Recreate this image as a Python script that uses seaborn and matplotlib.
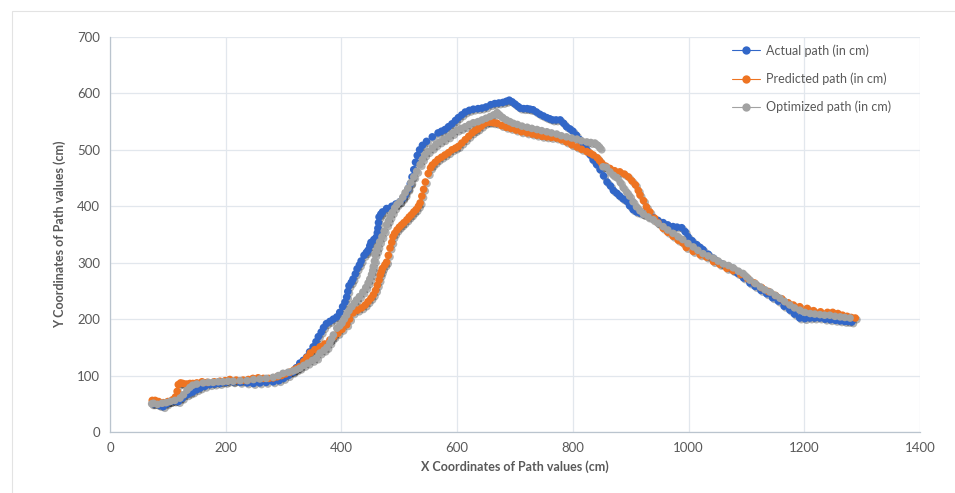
import pandas as pd
import matplotlib
matplotlib.use("Agg")
import matplotlib.pyplot as plt
import matplotlib.patheffects as pe
from matplotlib.lines import Line2D
from matplotlib.patches import Rectangle
import seaborn as sns

# =============================
# DATA
# =============================
actual_x = [75, 81, 86, 92, 98, 104, 111, 118, 125, 133, 138, 143, 150, 156, 164, 173, 181, 190, 200, 213,
            225, 237, 248, 259, 270, 282, 292, 300, 308, 316, 322, 328, 334, 340, 345, 351, 356, 360, 365, 369,
            374, 380, 386, 392, 397, 402, 406, 409, 411, 413, 417, 420, 424, 427, 431, 434, 439, 443, 446, 449,
            451, 456, 460, 462, 463, 464, 465, 468, 471, 478, 487, 494, 501, 506, 510, 515, 519, 522, 525, 528,
            531, 535, 540, 547, 557, 567, 573, 579, 585, 591, 597, 602, 608, 614, 621, 628, 636, 643, 650, 658,
            665, 672, 679, 685, 690, 695, 700, 705, 709, 715, 721, 726, 731, 737, 743, 749, 755, 760, 765, 771,
            778, 784, 789, 795, 800, 806, 812, 818, 824, 830, 835, 841, 847, 853, 859, 865, 870, 876, 881, 887,
            893, 898, 904, 910, 916, 922, 930, 939, 947, 956, 964, 973, 980, 988, 994, 999, 1006, 1014, 1020, 1025,
            1034, 1043, 1050, 1057, 1066, 1075, 1085, 1095, 1106, 1115, 1125, 1135, 1145, 1155, 1165, 1175, 1183,
            1192, 1201, 1210, 1218, 1227, 1236, 1245, 1254, 1262, 1270, 1276, 1282]
actual_y = [50, 51, 47, 45, 50, 54, 55, 54, 60, 66, 69, 71, 75, 78, 81, 84, 85, 86, 88, 89,
            88, 87, 86, 87, 88, 89, 91, 95, 100, 106, 114, 122, 127, 133, 142, 151, 160, 169, 177, 185,
            192, 196, 200, 204, 212, 222, 230, 239, 249, 259, 265, 271, 280, 289, 296, 303, 313, 318, 322, 330,
            336, 341, 345, 353, 361, 371, 381, 386, 390, 396, 400, 404, 408, 414, 420, 430, 440, 452, 465, 478,
            490, 500, 508, 515, 523, 530, 533, 536, 541, 546, 552, 557, 562, 567, 570, 572, 573, 574, 576, 580,
            582, 583, 584, 586, 588, 585, 581, 577, 574, 573, 573, 572, 571, 567, 563, 560, 557, 555, 553, 553,
            553, 547, 541, 537, 533, 526, 518, 510, 500, 491, 482, 474, 465, 454, 443, 436, 428, 423, 418, 413,
            409, 401, 394, 390, 388, 386, 383, 380, 375, 371, 367, 364, 363, 362, 355, 346, 339, 332, 327, 323,
            315, 308, 302, 298, 293, 288, 281, 273, 264, 258, 251, 245, 238, 232, 223, 216, 209,
            202, 201, 202, 202, 202, 200, 199, 198, 197, 196, 196, 195]

predicted_x = [73, 78, 84, 92, 100, 108, 113, 116, 118, 122, 126, 132, 138, 143, 150, 159, 168, 180, 190, 199,
               207, 218, 230, 239, 247, 256, 265, 274, 282, 289, 296, 303, 311, 318, 323, 328, 335, 340, 346, 354,
               363, 371, 380, 387, 394, 401, 409, 414, 420, 428, 435, 441, 446, 451, 455, 459, 462, 465, 467, 469,
               471, 475, 478, 481, 484, 487, 489, 492, 496, 500, 504, 508, 513, 517, 521, 525, 529, 533, 536, 539,
               542, 545, 550, 554, 557, 562, 567, 573, 579, 585, 591, 597, 602, 608, 614, 620, 626, 631, 636, 642,
               648, 653, 657, 663, 669, 677, 685, 693, 702, 711, 721, 730, 738, 747, 755, 763, 772, 780, 789, 798,
               807, 815, 824, 830, 835, 842, 846, 850, 857, 864, 872, 881, 889, 896, 902, 908, 913, 916, 922, 927,
               933, 941, 947, 956, 964, 973, 982, 990, 996, 1008, 1020, 1031, 1043, 1054, 1066, 1077, 1090, 1102,
               1114, 1126, 1138, 1150, 1161, 1172, 1181, 1192, 1205, 1216, 1228, 1240, 1249, 1258, 1266, 1274,
               1281, 1288]
predicted_y = [56, 56, 54, 52, 54, 57, 62, 72, 84, 87, 86, 85, 86, 86, 87, 89, 88, 89, 90, 91,
               93, 92, 92, 93, 95, 96, 95, 95, 96, 98, 100, 103, 106, 110, 113, 116, 125, 132, 140, 146,
               151, 156, 163, 169, 175, 182, 190, 200, 211, 216, 220, 225, 231, 237, 243, 251, 260, 269, 278, 284,
               290, 296, 301, 313, 326, 336, 346, 352, 358, 363, 367, 371, 376, 381, 385, 390, 394, 400, 406, 418,
               430, 443, 458, 468, 473, 478, 483, 487, 491, 495, 500, 503, 506, 512, 518, 524, 530, 534, 537, 542,
               547, 549, 549, 548, 547, 543, 540, 538, 535, 532, 530, 528, 526, 524, 523, 522, 521, 518, 514, 509,
               505, 501, 497, 494, 491, 486, 481, 476, 471, 467, 463, 461, 457, 452, 445, 438, 428, 420, 410, 399,
               390, 379, 371, 361, 354, 347, 340, 335, 327, 320, 314, 310, 302, 297, 290, 286, 279, 272,
               264, 256, 249, 242, 236, 229, 225, 222, 219, 215, 213, 212, 212, 210, 207, 205,
               203, 202]

optimized_x = [72, 75, 82, 90, 97, 104, 112, 121, 127, 133, 138, 143, 150, 161, 170, 178, 187, 195, 204, 213,
               225, 237, 248, 259, 270, 282, 291, 299, 308, 316, 322, 328, 335, 342, 350, 357, 363, 370, 375, 380,
               383, 386, 392, 397, 401, 405, 409, 413, 418, 422, 426, 431, 437, 442, 446, 449, 452, 454, 455, 457,
               458, 461, 463, 466, 470, 474, 478, 481, 484, 488, 492, 496, 501, 506, 510, 515, 520, 525, 530, 536,
               540, 544, 550, 557, 563, 570, 577, 585, 592, 600, 607, 614, 621, 628, 636, 643, 650, 657, 663, 669,
               674, 679, 685, 691, 697, 704, 712, 721, 729, 738, 746, 755, 763, 772, 780, 789, 798, 807, 815, 824,
               831, 838, 843, 847, 852, 858, 864, 870, 876, 882, 887, 893, 898, 904, 910, 916, 922, 930, 939, 947,
               956, 964, 973, 982, 990, 999, 1008, 1016, 1025, 1034, 1043, 1051, 1060, 1069, 1077, 1086, 1094, 1100,
               1106, 1115, 1124, 1132, 1141, 1150, 1158, 1166, 1175, 1183, 1192, 1201, 1210, 1218, 1227, 1235,
               1244, 1253, 1262, 1270, 1279]
optimized_y = [50, 51, 49, 51, 52, 54, 56, 60, 66, 74, 79, 83, 85, 87, 88, 88, 89, 89, 90, 90,
               91, 91, 93, 94, 95, 97, 100, 104, 106, 108, 110, 113, 118, 122, 127, 131, 140, 145, 150, 158,
               165, 172, 184, 188, 193, 200, 207, 215, 222, 228, 234, 240, 248, 256, 264, 271, 279, 286, 293, 303,
               314, 321, 328, 337, 346, 356, 367, 374, 381, 389, 397, 403, 408, 416, 424, 432, 442, 452, 462, 474,
               483, 491, 497, 503, 509, 514, 518, 523, 529, 535, 538, 541, 545, 548, 550, 553, 556, 559, 562, 566,
               561, 557, 553, 550, 547, 545, 542, 540, 538, 536, 534, 532, 530, 528, 525, 523, 521, 519, 516, 514,
               513, 512, 508, 503, 470, 469, 461, 455, 451, 442, 433, 425, 418, 408, 399, 392, 386, 381, 376, 370,
               364, 358, 352, 346, 341, 334, 328, 322, 316, 312, 308, 303, 298, 295, 291, 285, 281, 275,
               269, 263, 257, 252, 248, 242, 237, 231, 225, 220, 216, 212, 210, 209, 208, 207,
               207, 205, 204, 203, 202]

series_names = ["Actual path (in cm)", "Predicted path (in cm)", "Optimized path (in cm)"]
series_colors = ["#3267C8", "#EE7422", "#A2A2A2"]

df = pd.concat([
    pd.DataFrame({"x": actual_x, "y": actual_y, "series": series_names[0]}),
    pd.DataFrame({"x": predicted_x, "y": predicted_y, "series": series_names[1]}),
    pd.DataFrame({"x": optimized_x, "y": optimized_y, "series": series_names[2]}),
], ignore_index=True)

# =============================
# PLOT
# =============================
sns.set_style("white")
plt.rcParams["font.family"] = ["Lato", "DejaVu Sans"]

fig = plt.figure(figsize=(9.55, 4.93), dpi=100)
ax = fig.add_axes([0.1152, 0.1237, 0.8482, 0.8013])

sns.scatterplot(data=df, x="x", y="y", hue="series", palette=dict(zip(series_names, series_colors)),
                s=30, linewidth=0, legend=False, ax=ax)
for coll in ax.collections:
    coll.set_path_effects([pe.SimplePatchShadow(offset=(1.2, -1.2), shadow_rgbFace="black", alpha=0.3),
                           pe.Normal()])

ax.set_xlim(0, 1400)
ax.set_ylim(0, 700)
ax.set_xticks(range(0, 1401, 200))
ax.set_yticks(range(0, 701, 100))
ax.grid(True, color="#E2E7ED", linewidth=0.9)
ax.set_axisbelow(True)
for side in ["top", "right"]:
    ax.spines[side].set_visible(False)
for side in ["left", "bottom"]:
    ax.spines[side].set_color("#BAC4CE")
    ax.spines[side].set_linewidth(0.9)
ax.tick_params(axis="both", length=4, width=0.9, color="#BAC4CE", labelsize=9.5, labelcolor="#595959", pad=3)

ax.set_xlabel("X Coordinates of Path values (cm)", fontsize=9, fontweight="bold", color="#595959", labelpad=5)
ax.set_ylabel("Y Coordinates of Path values (cm)", fontsize=9, fontweight="bold", color="#595959", labelpad=8)

handles = [Line2D([0], [0], color=c, lw=0.8, marker="o", markersize=6, markeredgewidth=0)
           for c in series_colors]
ax.legend(handles, series_names, loc="upper left", bbox_to_anchor=(721 / 955, 1 - 33 / 493),
          bbox_transform=fig.transFigure, frameon=False, fontsize=9, labelcolor="#595959",
          handlelength=2.2, handletextpad=0.5, labelspacing=1.25)

# chart area border
fig.patches.append(Rectangle((12 / 955, -0.1), 1.0, 1 - 11 / 493 + 0.1, transform=fig.transFigure,
                             fill=False, edgecolor="#E3E3E3", linewidth=0.8))

fig.savefig("out.png", dpi=100)
